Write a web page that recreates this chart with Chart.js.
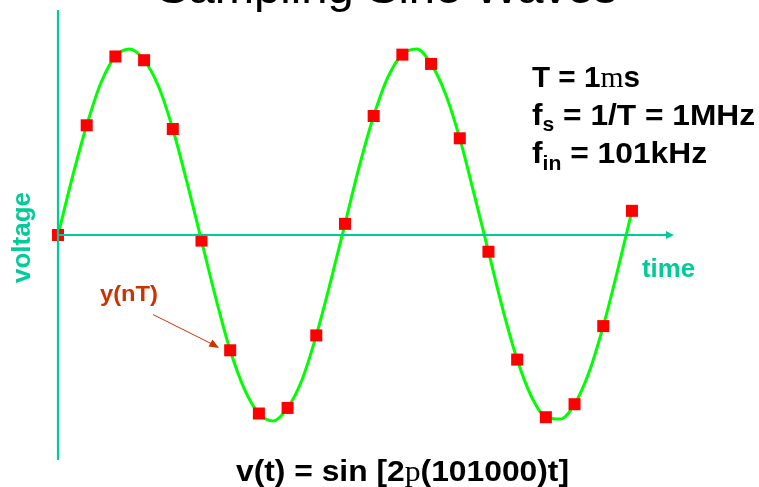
<!DOCTYPE html>
<html>
<head>
<meta charset="utf-8">
<script src="https://cdn.jsdelivr.net/npm/chart.js@4"></script>
<style>
html,body{margin:0;padding:0;background:#fff;}
#c{display:block;}
</style>
</head>
<body>
<canvas id="c" width="759" height="487"></canvas>
<script>
// ---- data ----
const sampleIndex = [0,1,2,3,4,5,6,7,8,9,10,11,12,13,14,15,16,17,18,19,20];
const sampleValues = [0, 0.59, 0.96, 0.94, 0.57, -0.03, -0.62, -0.96, -0.93, -0.54, 0.06, 0.64, 0.97, 0.92, 0.52, -0.09, -0.67, -0.98, -0.91, -0.49, 0.13];
const curveTime = [0,0.5,1,1.5,2,2.5,3,3.5,4,4.5,5,5.5,6,6.5,7,7.5,8,8.5,9,9.5,10,10.5,11,11.5,12,12.5,13,13.5,14,14.5,15,15.5,16,16.5,17,17.5,18,18.5,19,19.5,20];
const curveValues = [0,0.31,0.59,0.82,0.96,1.00,0.94,0.80,0.57,0.28,-0.03,-0.34,-0.62,-0.83,-0.96,-1.00,-0.93,-0.78,-0.54,-0.25,0.06,0.37,0.64,0.85,0.97,1.00,0.92,0.76,0.52,0.22,-0.09,-0.40,-0.67,-0.87,-0.98,-0.99,-0.91,-0.74,-0.49,-0.19,0.13];
const titleText = "Sampling Sine Waves";
const axisLabelY = "voltage";
const axisLabelX = "time";
const sampleLabel = "y(nT)";

const TEAL = "#00CC99";
const RED = "#FF0000";
const GREEN = "#00FF00";
const ORANGE = "#CC3300";
const SANS = '"Liberation Sans", Arial, sans-serif';
const SERIF = '"Liberation Serif", "Times New Roman", serif';

function drawRuns(ctx, runs, x, y, targetWidth) {
  // runs: [text, font, dy]
  let total = 0;
  runs.forEach(r => { ctx.font = r[1]; total += ctx.measureText(r[0]).width; });
  const s = targetWidth ? targetWidth / total : 1;
  ctx.save();
  ctx.translate(x, y);
  ctx.scale(s, 1);
  let cx = 0;
  runs.forEach(r => {
    ctx.font = r[1];
    ctx.fillText(r[0], cx, r[2] || 0);
    cx += ctx.measureText(r[0]).width;
  });
  ctx.restore();
}

const overlay = {
  id: 'overlay',
  afterDatasetsDraw(chart) {
    const ctx = chart.ctx;
    const area = chart.chartArea;
    const xs = chart.scales.x, ys = chart.scales.y;
    const x0 = xs.getPixelForValue(0);
    const y0 = ys.getPixelForValue(0);
    ctx.save();
    // axes
    ctx.strokeStyle = TEAL;
    ctx.fillStyle = TEAL;
    ctx.lineWidth = 2.2;
    ctx.beginPath();
    ctx.moveTo(x0, area.top);
    ctx.lineTo(x0, area.bottom);
    ctx.stroke();
    ctx.beginPath();
    ctx.moveTo(x0, y0);
    ctx.lineTo(area.right - 7, y0);
    ctx.stroke();
    ctx.beginPath();
    ctx.moveTo(area.right - 1, y0);
    ctx.lineTo(area.right - 9, y0 - 4);
    ctx.lineTo(area.right - 9, y0 + 4);
    ctx.closePath();
    ctx.fill();

    ctx.textAlign = 'left';
    ctx.textBaseline = 'alphabetic';
    // title (cut at top)
    ctx.fillStyle = '#000';
    drawRuns(ctx, [[titleText, '44px ' + SANS]], 157, 3, 460);

    // axis labels
    ctx.fillStyle = TEAL;
    ctx.save();
    ctx.translate(30, 283);
    ctx.rotate(-Math.PI / 2);
    drawRuns(ctx, [[axisLabelY, 'bold 25px ' + SANS]], 0, 0, 91);
    ctx.restore();
    drawRuns(ctx, [[axisLabelX, 'bold 25px ' + SANS]], 642, 277, 53);

    // right block
    ctx.fillStyle = '#000';
    const B = 'bold 30px ' + SANS, BS = 'bold 20px ' + SANS, SR = '30px ' + SERIF;
    drawRuns(ctx, [['T = 1', B], ['m', SR], ['s', B]], 532, 87, 108);
    drawRuns(ctx, [['f', B], ['s', BS, 6], [' = 1/T = 1MHz', B]], 532, 125, 223);
    drawRuns(ctx, [['f', B], ['in', BS, 7], [' = 101kHz', B]], 532, 163, 175);

    // bottom formula
    drawRuns(ctx, [['v(t) = sin [2', B], ['p', SR], ['(101000)t]', B]], 236, 481, 333);

    // y(nT) label with arrow
    ctx.fillStyle = ORANGE;
    drawRuns(ctx, [[sampleLabel, 'bold 22px ' + SANS]], 100, 301, 58);
    ctx.strokeStyle = ORANGE;
    ctx.lineWidth = 1;
    ctx.beginPath();
    ctx.moveTo(153, 314.5);
    ctx.lineTo(212, 344);
    ctx.stroke();
    ctx.beginPath();
    ctx.moveTo(219, 348);
    ctx.lineTo(208.5, 346.5);
    ctx.lineTo(212.5, 339.5);
    ctx.closePath();
    ctx.fill();
    ctx.restore();
  }
};

new Chart(document.getElementById('c'), {
  type: 'scatter',
  data: {
    datasets: [
      {
        label: 'samples',
        data: sampleIndex.map((n, i) => ({x: n, y: sampleValues[i]})),
        showLine: false,
        clip: false,
        pointStyle: 'rect',
        pointRadius: 8.5,
        pointBorderWidth: 0,
        pointBackgroundColor: RED,
        pointBorderColor: RED
      },
      {
        label: 'v(t)',
        data: curveTime.map((t, i) => ({x: t, y: curveValues[i]})),
        showLine: true,
        clip: false,
        borderColor: GREEN,
        borderWidth: 3,
        pointRadius: 0,
        cubicInterpolationMode: 'monotone',
        fill: false
      }
    ]
  },
  options: {
    responsive: false,
    animation: false,
    devicePixelRatio: 1,
    events: [],
    layout: { padding: { left: 58, right: 84, top: 10, bottom: 27 } },
    scales: {
      x: { type: 'linear', min: 0, max: 21.5, display: false },
      y: { type: 'linear', min: -1.21, max: 1.21, display: false }
    },
    plugins: { legend: { display: false }, tooltip: { enabled: false }, title: { display: false } }
  },
  plugins: [overlay]
});
</script>
</body>
</html>
